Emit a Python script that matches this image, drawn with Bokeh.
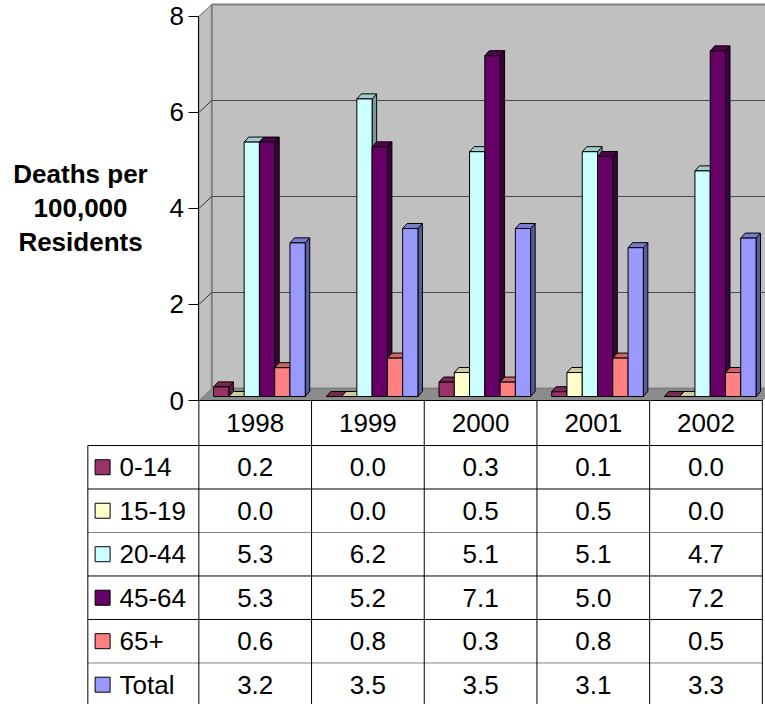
from bokeh.plotting import figure
from bokeh.models import Range1d, LinearAxis, FixedTicker
from bokeh.core.properties import value
from bokeh.embed import file_html
from bokeh.resources import INLINE

# ---------------- data ----------------
years = ["1998", "1999", "2000", "2001", "2002"]
series = ["0-14", "15-19", "20-44", "45-64", "65+", "Total"]
colors = ["#993366", "#FFFFCC", "#CCFFFF", "#660066", "#FF8080", "#9999FF"]
v_0_14 = [0.2, 0.0, 0.3, 0.1, 0.0]
v_15_19 = [0.0, 0.0, 0.5, 0.5, 0.0]
v_20_44 = [5.3, 6.2, 5.1, 5.1, 4.7]
v_45_64 = [5.3, 5.2, 7.1, 5.0, 7.2]
v_65p = [0.6, 0.8, 0.3, 0.8, 0.5]
v_total = [3.2, 3.5, 3.5, 3.1, 3.3]
all_vals = [v_0_14, v_15_19, v_20_44, v_45_64, v_65p, v_total]
y_ticks = [0, 2, 4, 6, 8]
y_title = ["Deaths per", "100,000", "Residents"]

# ---------------- layout constants ----------------
FONT = "Liberation Sans"
NCAT = len(years)
YMAX = y_ticks[-1]
X_MIN, X_MAX = -1.760, 5.028
Y_TOP, Y_BOT = 8.333, -6.333
WDX, WDY = 0.115, 0.25           # depth of the 3D walls
GL, BW = 0.131, 0.1355           # group left offset, bar width
BDX, BDY, BASE = 0.04, 0.105, 0.083
HEAD_H, ROW_H = 0.9375, 0.906
LEG_L = -0.985
SW_X, LEG_TX = -0.854, -0.704
TITLE_X, TITLE_Y = -1.05, 4.0


def shade(hexcol, f):
    r, g, b = (int(hexcol[i:i + 2], 16) for i in (1, 3, 5))
    return "#%02x%02x%02x" % (int(r * f), int(g * f), int(b * f))


p = figure(width=765, height=704,
           x_range=Range1d(X_MIN, X_MAX), y_range=Range1d(Y_BOT, Y_TOP),
           output_backend="svg", toolbar_location=None,
           x_axis_location=None, y_axis_location=None,
           min_border=0, outline_line_color=None,
           background_fill_color="white", border_fill_color="white")
p.grid.visible = False

# ---------------- 3D walls ----------------
p.patch([0, NCAT, NCAT + WDX, WDX], [0, 0, WDY, WDY],
        fill_color="#8C8C8C", line_color="#808080", line_width=1)
p.patch([0, 0, WDX, WDX], [0, YMAX, YMAX + WDY, WDY],
        fill_color="#C0C0C0", line_color="#808080", line_width=1)
p.quad(left=WDX, right=NCAT + WDX, bottom=WDY, top=YMAX + WDY,
       fill_color="#C0C0C0", line_color="#808080", line_width=2)
grid_v = y_ticks[1:-1]
p.segment(x0=WDX, y0=[v + WDY for v in grid_v], x1=NCAT + WDX,
          y1=[v + WDY for v in grid_v], line_color="#4a4a4a", line_width=1)
p.segment(x0=0, y0=grid_v, x1=WDX, y1=[v + WDY for v in grid_v],
          line_color="#333333", line_width=1)
p.segment(x0=[0], y0=[YMAX], x1=[WDX], y1=[YMAX + WDY],
          line_color="#808080", line_width=1)

# ---------------- 3D bars ----------------
for k, (vals, col) in enumerate(zip(all_vals, colors)):
    left = [c + GL + k * BW for c in range(NCAT)]
    right = [l + BW for l in left]
    top = [BASE + v for v in vals]
    side_xs = [[r, r + BDX, r + BDX, r] for r in right]
    side_ys = [[BASE, BASE + BDY, t + BDY, t] for t in top]
    top_xs = [[l, r, r + BDX, l + BDX] for l, r in zip(left, right)]
    top_ys = [[t, t, t + BDY, t + BDY] for t in top]
    p.patches(side_xs, side_ys, fill_color=shade(col, 0.6), line_color="black", line_width=1)
    p.patches(top_xs, top_ys, fill_color=shade(col, 0.8), line_color="black", line_width=1)
    p.quad(left=left, right=right, bottom=BASE, top=top,
           fill_color=col, line_color="black", line_width=1)

# ---------------- value axis ----------------
yaxis = LinearAxis(fixed_location=0, ticker=FixedTicker(ticks=y_ticks), bounds=(0, YMAX),
                   major_tick_out=10, major_tick_in=0, minor_tick_out=0, minor_tick_in=0,
                   major_label_standoff=5,
                   major_label_text_font=FONT, major_label_text_font_size="26px",
                   major_label_text_color="black",
                   axis_line_color="black", major_tick_line_color="black")
p.add_layout(yaxis, "left")

p.text(x=[TITLE_X] * 3, y=[TITLE_Y] * 3, text=y_title, y_offset=[-34, 0, 34],
       text_font=value(FONT), text_font_style="bold", text_font_size="26px",
       text_align="center", text_baseline="middle", text_color="black")

# ---------------- data table ----------------
p.segment(x0=[0], y0=[0], x1=[NCAT], y1=[0], line_color="black", line_width=1)
row_tops = [-HEAD_H - i * ROW_H for i in range(len(series))]
row_mid = [t - ROW_H / 2 for t in row_tops]
h_colors = ["black", "black", "#808080", "black", "black", "#808080"]
p.segment(x0=LEG_L, y0=row_tops, x1=NCAT, y1=row_tops, line_color=h_colors, line_width=1)
p.segment(x0=list(range(NCAT + 1)), y0=0, x1=list(range(NCAT + 1)), y1=Y_BOT,
          line_color="black", line_width=1)
p.segment(x0=[LEG_L], y0=[-HEAD_H], x1=[LEG_L], y1=[Y_BOT], line_color="black", line_width=1)

p.text(x=[c + 0.5 for c in range(NCAT)], y=-HEAD_H / 2, text=years,
       text_font=value(FONT), text_font_size="26px", text_align="center",
       text_baseline="middle", text_color="black")

for k, vals in enumerate(all_vals):
    p.text(x=[c + 0.5 for c in range(NCAT)], y=row_mid[k],
           text=["%.1f" % v for v in vals],
           text_font=value(FONT), text_font_size="26px", text_align="center",
           text_baseline="middle", text_color="black")

p.rect(x=SW_X, y=row_mid, width=15, height=15, width_units="screen", height_units="screen",
       fill_color=colors, line_color="black", line_width=1)
p.text(x=LEG_TX, y=row_mid, text=series,
       text_font=value(FONT), text_font_size="26px", text_align="left",
       text_baseline="middle", text_color="black")

open("out.html", "w").write(file_html(p, INLINE))
